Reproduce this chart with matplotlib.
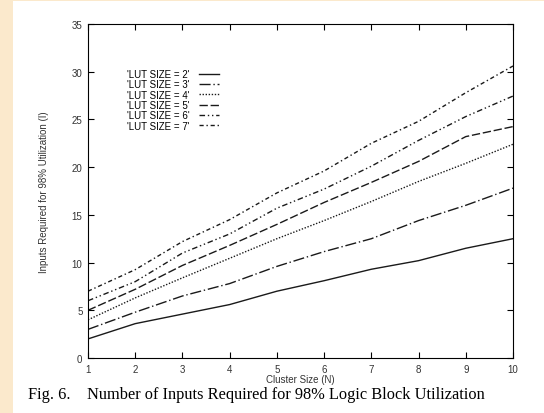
import matplotlib.pyplot as plt
from matplotlib.patches import Rectangle

# Cluster sizes (N)
cluster_size = [1, 2, 3, 4, 5, 6, 7, 8, 9, 10]

# Inputs required for 98% utilization, per LUT size
lut2 = [2.0, 3.6, 4.6, 5.6, 7.0, 8.1, 9.3, 10.2, 11.5, 12.5]
lut3 = [3.0, 4.8, 6.5, 7.8, 9.6, 11.15, 12.5, 14.4, 16.0, 17.8]
lut4 = [4.0, 6.3, 8.4, 10.45, 12.5, 14.4, 16.4, 18.5, 20.4, 22.4]
lut5 = [5.0, 7.2, 9.7, 11.8, 14.0, 16.3, 18.4, 20.6, 23.2, 24.25]
lut6 = [6.0, 8.0, 11.0, 13.0, 15.7, 17.7, 20.1, 22.8, 25.3, 27.45]
lut7 = [7.0, 9.26, 12.2, 14.5, 17.3, 19.6, 22.5, 24.8, 27.8, 30.6]

labels = ["'LUT SIZE = 2'", "'LUT SIZE = 3'", "'LUT SIZE = 4'",
          "'LUT SIZE = 5'", "'LUT SIZE = 6'", "'LUT SIZE = 7'"]

plt.rcParams['font.family'] = ['Liberation Sans', 'DejaVu Sans']

fig = plt.figure(figsize=(5.44, 4.14), dpi=100)
fig.patch.set_facecolor('white')

# beige page strip on the left and top edge
fig.patches.append(Rectangle((0, 0), 13 / 544, 1, transform=fig.transFigure,
                             facecolor='#fbe9cc', edgecolor='none', zorder=0))
fig.patches.append(Rectangle((0, 1 - 2 / 414), 1, 2 / 414, transform=fig.transFigure,
                             facecolor='#fbe9cc', edgecolor='none', zorder=0))

ax = fig.add_axes([88 / 544, 55 / 414, 425 / 544, 334 / 414])

styles = ['-', (0, (8, 2, 1, 2)), (0, (1, 1.2)), (0, (6, 2)),
          (0, (4, 2, 1, 2, 1, 2)), (0, (3, 2, 1, 2))]
series = [lut2, lut3, lut4, lut5, lut6, lut7]
for ys, ls, lab in zip(series, styles, labels):
    ax.plot(cluster_size, ys, linestyle=ls, color='#1a1a1a', linewidth=1.0, label=lab)

ax.set_xlim(1, 10)
ax.set_ylim(0, 35)
ax.set_xticks(cluster_size)
ax.set_yticks(range(0, 36, 5))
ax.tick_params(direction='in', length=4, width=0.8, top=True, right=True,
               labelsize=7, labelcolor='#333333', pad=4)
for sp in ax.spines.values():
    sp.set_linewidth(0.8)

ax.set_xlabel('Cluster Size (N)', fontsize=7, color='#333333', labelpad=0)
ax.set_ylabel('Inputs Required for 98% Utilization (I)', fontsize=7,
              color='#333333', labelpad=16)

ax.legend(loc='upper left', bbox_to_anchor=(0.08, 0.88), frameon=False,
          markerfirst=False, fontsize=7, handlelength=2.0, handletextpad=1.0,
          labelspacing=0.04, borderpad=0)

fig.text(28 / 544, 1 - 395 / 414,
         'Fig. 6.    Number of Inputs Required for 98% Logic Block Utilization',
         family='Liberation Serif', fontsize=11.8, va='center', ha='left')

plt.savefig('out.png', dpi=100)
